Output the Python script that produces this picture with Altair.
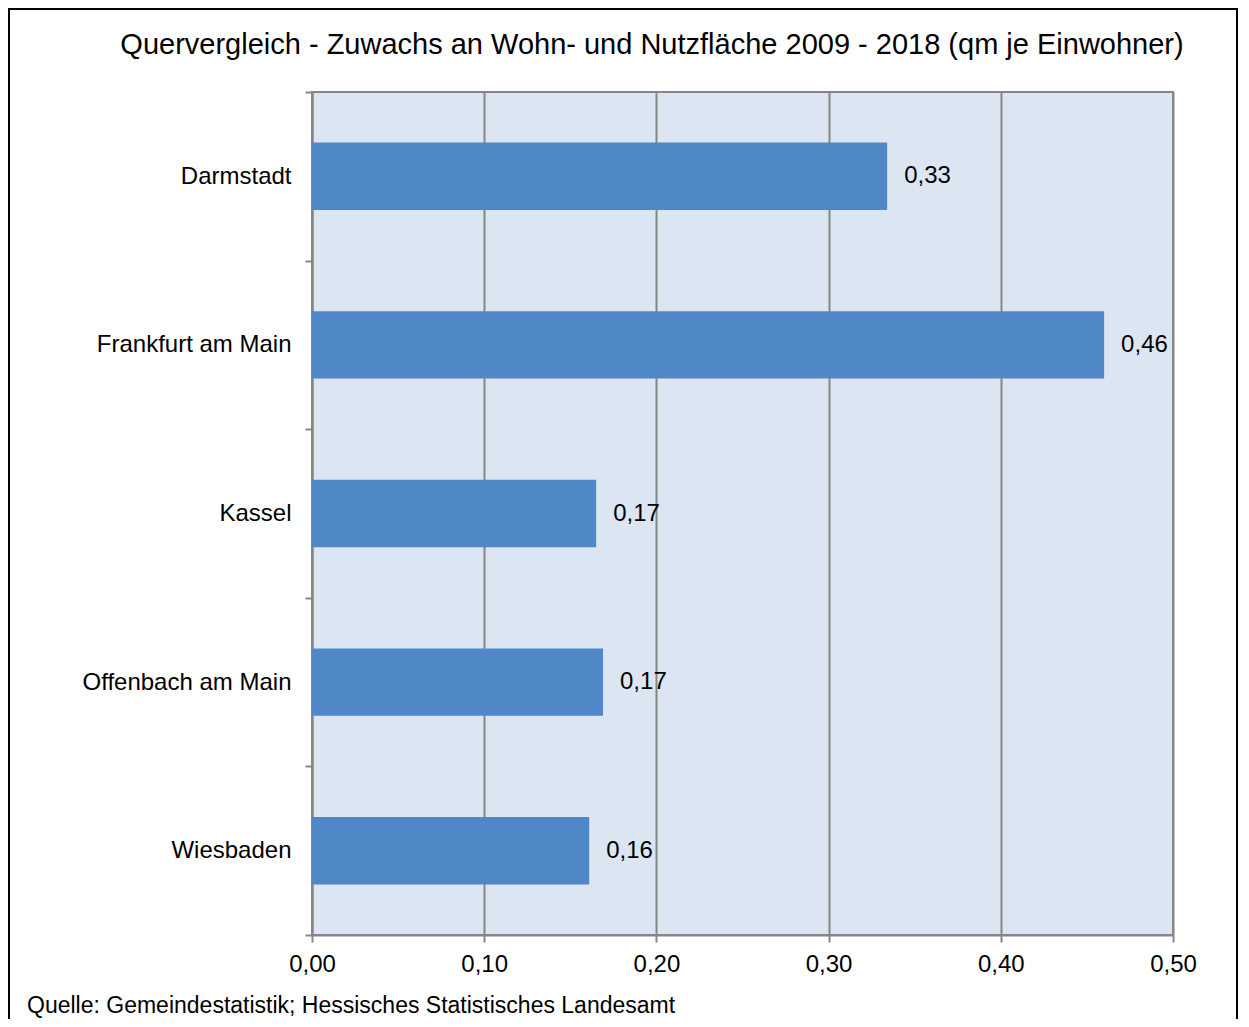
import altair as alt
import pandas as pd

cities = ["Darmstadt", "Frankfurt am Main", "Kassel", "Offenbach am Main", "Wiesbaden"]
values = [0.334, 0.460, 0.165, 0.169, 0.161]
labels = ["0,33", "0,46", "0,17", "0,17", "0,16"]
x_ticks = [0.0, 0.1, 0.2, 0.3, 0.4, 0.5]

title = "Quervergleich - Zuwachs an Wohn- und Nutzfläche 2009 - 2018 (qm je Einwohner)"
source = "Quelle: Gemeindestatistik; Hessisches Statistisches Landesamt"

df = pd.DataFrame({"Stadt": cities, "Wert": values, "Label": labels})

W, H = 861, 843
FONT = "Liberation Sans"
GRAY = "#868686"

base = alt.Chart(df)

y_enc = alt.Y("Stadt:N", sort=cities, title=None,
              scale=alt.Scale(paddingInner=0, paddingOuter=0),
              axis=alt.Axis(labelFont=FONT, labelFontSize=24, labelColor="#000000",
                            labelPadding=14, labelLimit=400, tickBand="extent", tickSize=7,
                            tickColor=GRAY, tickWidth=2, domainColor=GRAY,
                            domainWidth=2, grid=False))
x_enc = alt.X("Wert:Q", title=None,
              scale=alt.Scale(domain=[0, 0.5], nice=False),
              axis=alt.Axis(values=x_ticks, labelExpr="replace(format(datum.value, '.2f'), '.', ',')",
                            labelFont=FONT, labelFontSize=24, labelColor="#000000",
                            labelFlush=False, labelOverlap=False,
                            labelPadding=10, tickSize=7, tickColor=GRAY, tickWidth=2,
                            domainColor=GRAY, domainWidth=2, grid=True,
                            gridColor=GRAY, gridWidth=2))

bars = base.mark_bar(color="#5087c7", height=alt.RelativeBandSize(0.4)).encode(x=x_enc, y=y_enc)
text = base.mark_text(align="left", baseline="middle", dx=17, font=FONT,
                      fontSize=24, color="#000000").encode(
    x="Wert:Q", y=alt.Y("Stadt:N", sort=cities), text="Label:N")

title_df = pd.DataFrame({"t": [title]})
title_mark = alt.Chart(title_df).mark_text(align="center", baseline="middle", font=FONT,
                                            fontSize=29, color="#000000").encode(
    x=alt.value(340), y=alt.value(-47), text="t:N")

src_df = pd.DataFrame({"s": [source]})
src_mark = alt.Chart(src_df).mark_text(align="left", baseline="middle", font=FONT,
                                        fontSize=23, color="#000000").encode(
    x=alt.value(-285), y=alt.value(H + 71), text="s:N")

border = alt.Chart(title_df).mark_rect(fill=None, stroke="#000000", strokeWidth=2,
                                        clip=False).encode(
    x=alt.value(-303), x2=alt.value(W + 64), y=alt.value(-83), y2=alt.value(H + 100))

chart = alt.layer(bars, text, title_mark, src_mark, border).properties(
    width=W, height=H,
    autosize=alt.AutoSizeParams(type="none"),
    padding={"left": 304, "top": 84, "right": 66, "bottom": 84},
).configure_view(fill="#dce6f2", stroke=GRAY, strokeWidth=2)

chart.save("out.html", embed_options={"renderer": "svg", "actions": False})
